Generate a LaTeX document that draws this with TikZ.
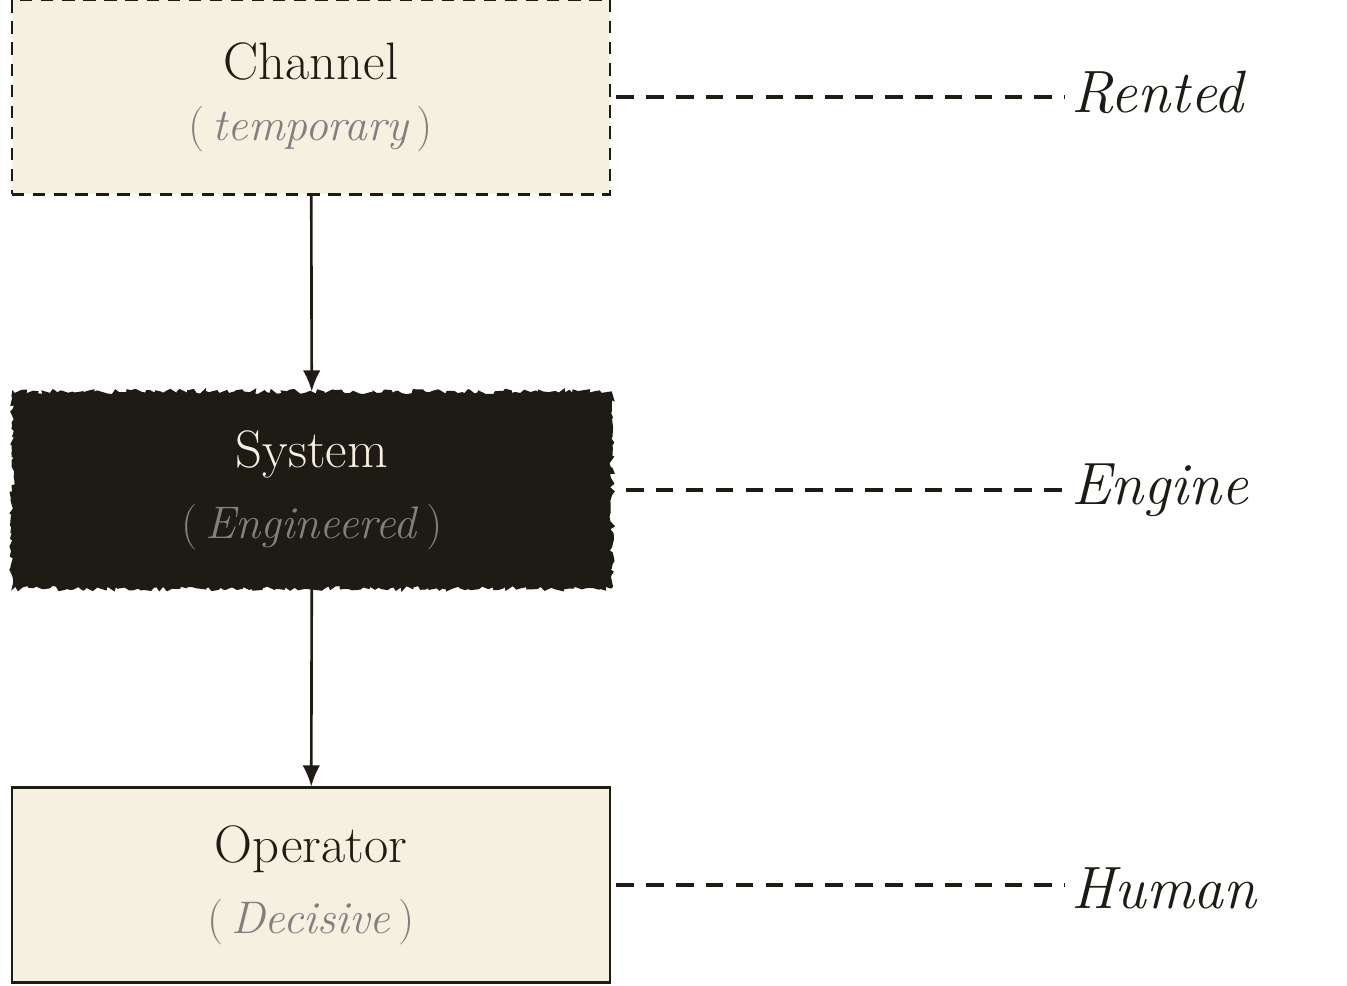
\documentclass[tikz,border=0pt]{standalone}
\usepackage{tikz}
\usetikzlibrary{decorations.pathmorphing,arrows.meta}
\definecolor{paper}{HTML}{F5F0DF}
\definecolor{ink}{HTML}{1E1A14}
\tikzset{
  box/.style={draw=ink,fill=paper,line width=1.2pt,minimum width=11.96cm,minimum height=3.9cm,align=center,text=ink},
  tag/.style={anchor=west,text=ink,font=\fontsize{34}{40}\selectfont\itshape},
  link/.style={draw=ink,line width=2pt,dash pattern=on 10pt off 7pt},
}
\newcommand{\sub}[1]{{\fontsize{26}{32}\selectfont\color{gray}(\,\textit{#1}\,)}}
\begin{document}
\begin{tikzpicture}[x=0.02cm,y=-0.02cm]
  \useasboundingbox (0,0) rectangle (1347,985);
  \node[box,dashed,dash pattern=on 7pt off 5pt] (chan) at (311,97) {{\fontsize{30}{36}\selectfont Channel}\\[14pt]\sub{temporary}};
  \node[box,fill=ink,draw=ink,text=paper,decorate,decoration={random steps,segment length=2pt,amplitude=1.5pt}] (sys) at (312,490) {{\fontsize{30}{36}\selectfont System}\\[14pt]\sub{Engineered}};
  \node[box] (op) at (311,885) {{\fontsize{30}{36}\selectfont Operator}\\[14pt]\sub{Decisive}};

  \node[tag] (rent) at (1065,92) {Rented};
  \node[tag] (eng) at (1065,490) {Engine};
  \node[tag] (hum) at (1065,888) {Human};

  \draw[ink,line width=1.5pt,-{Latex[length=12pt,width=10pt]}] (chan) -- (sys);
  \draw[ink,line width=1.5pt,-{Latex[length=12pt,width=10pt]}] (sys) -- (op);

  \draw[link] ([xshift=3pt]chan.east) -- (chan.east -| rent.west);
  \draw[link] ([xshift=8pt]sys.east) -- (sys.east -| eng.west);
  \draw[link] ([xshift=3pt]op.east) -- (op.east -| hum.west);
\end{tikzpicture}
\end{document}
